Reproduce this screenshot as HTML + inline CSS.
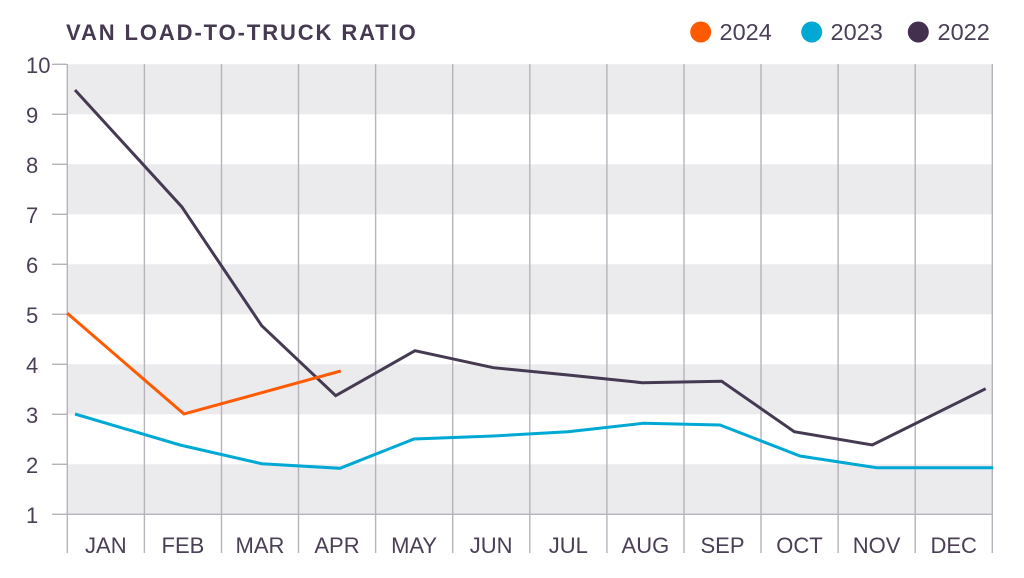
<!DOCTYPE html>
<html>
<head>
<meta charset="utf-8">
<style>
  html,body{margin:0;padding:0;background:#fff;}
  body{width:1024px;height:578px;overflow:hidden;}
  svg{display:block;}
  text{font-family:"Liberation Sans", sans-serif;fill:#4a3f55;}
</style>
</head>
<body>
<svg width="1024" height="578" viewBox="0 0 1024 578" xmlns="http://www.w3.org/2000/svg">
  <!-- bands -->
  <g fill="#ebebee">
    <rect x="67" y="64.3" width="925" height="50"/>
    <rect x="67" y="164.3" width="925" height="50"/>
    <rect x="67" y="264.3" width="925" height="50"/>
    <rect x="67" y="364.3" width="925" height="50"/>
    <rect x="67" y="464.3" width="925" height="50"/>
  </g>
  <!-- vertical grid -->
  <g stroke="#b6b3bb" stroke-width="1.4">
    <line x1="67.3" y1="64" x2="67.3" y2="553"/>
    <line x1="144.4" y1="64" x2="144.4" y2="553"/>
    <line x1="221.5" y1="64" x2="221.5" y2="553"/>
    <line x1="298.5" y1="64" x2="298.5" y2="553"/>
    <line x1="375.6" y1="64" x2="375.6" y2="553"/>
    <line x1="452.7" y1="64" x2="452.7" y2="553"/>
    <line x1="529.8" y1="64" x2="529.8" y2="553"/>
    <line x1="606.9" y1="64" x2="606.9" y2="553"/>
    <line x1="684" y1="64" x2="684" y2="553"/>
    <line x1="761" y1="64" x2="761" y2="553"/>
    <line x1="838.1" y1="64" x2="838.1" y2="553"/>
    <line x1="915.2" y1="64" x2="915.2" y2="553"/>
    <line x1="992.3" y1="64" x2="992.3" y2="553"/>
  </g>
  <!-- ticks & baseline -->
  <g stroke="#b6b3bb" stroke-width="1.4">
    <line x1="52" y1="64.3" x2="67" y2="64.3"/>
    <line x1="52" y1="114.3" x2="67" y2="114.3"/>
    <line x1="52" y1="164.3" x2="67" y2="164.3"/>
    <line x1="52" y1="214.3" x2="67" y2="214.3"/>
    <line x1="52" y1="264.3" x2="67" y2="264.3"/>
    <line x1="52" y1="314.3" x2="67" y2="314.3"/>
    <line x1="52" y1="364.3" x2="67" y2="364.3"/>
    <line x1="52" y1="414.3" x2="67" y2="414.3"/>
    <line x1="52" y1="464.3" x2="67" y2="464.3"/>
    <line x1="52" y1="514.3" x2="992.3" y2="514.3"/>
  </g>
  <!-- y labels -->
  <g font-size="22">
    <text x="26" y="73">10</text>
    <text x="26" y="123">9</text>
    <text x="26" y="173">8</text>
    <text x="26" y="223">7</text>
    <text x="26" y="273">6</text>
    <text x="26" y="323">5</text>
    <text x="26" y="373">4</text>
    <text x="26" y="423">3</text>
    <text x="26" y="473">2</text>
    <text x="26" y="523">1</text>
  </g>
  <!-- x labels -->
  <g font-size="22" text-anchor="middle">
    <text x="105.8" y="553">JAN</text>
    <text x="182.9" y="553">FEB</text>
    <text x="260" y="553">MAR</text>
    <text x="337" y="553">APR</text>
    <text x="414.1" y="553">MAY</text>
    <text x="491.2" y="553">JUN</text>
    <text x="568.3" y="553">JUL</text>
    <text x="645.4" y="553">AUG</text>
    <text x="722.5" y="553">SEP</text>
    <text x="799.5" y="553">OCT</text>
    <text x="876.6" y="553">NOV</text>
    <text x="953.7" y="553">DEC</text>
  </g>
  <!-- title -->
  <text x="66" y="40" font-size="22" font-weight="bold" letter-spacing="1.9" style="fill:#463a52">VAN LOAD-TO-TRUCK RATIO</text>
  <!-- legend -->
  <circle cx="700.7" cy="32" r="10.5" fill="#ff5a00"/>
  <text x="719.5" y="40" font-size="23.5">2024</text>
  <circle cx="811.7" cy="32" r="10.5" fill="#00a9d4"/>
  <text x="830.5" y="40" font-size="23.5">2023</text>
  <circle cx="918.3" cy="32" r="10.5" fill="#43304f"/>
  <text x="937.5" y="40" font-size="23.5">2022</text>
  <!-- series -->
  <g fill="none" stroke-width="3" stroke-linejoin="miter" stroke-linecap="butt">
    <polyline stroke="#00a9d4" points="75,414 180,445 261.7,463.7 340,468.3 414,439 493,436 568,431.7 643.3,423.3 720,425 800,456 876.7,467.7 993.3,467.7"/>
    <polyline stroke="#463a52" points="75,90 181.7,206.7 261.7,325.7 335.7,395.7 415,350.7 493.3,367.7 568,375 642.3,382.7 721.7,381.3 794.3,431.7 872.3,445 985.7,388.7"/>
    <polyline stroke="#ff5a00" points="67.3,313.3 184,414 340.7,371"/>
  </g>
</svg>
</body>
</html>
